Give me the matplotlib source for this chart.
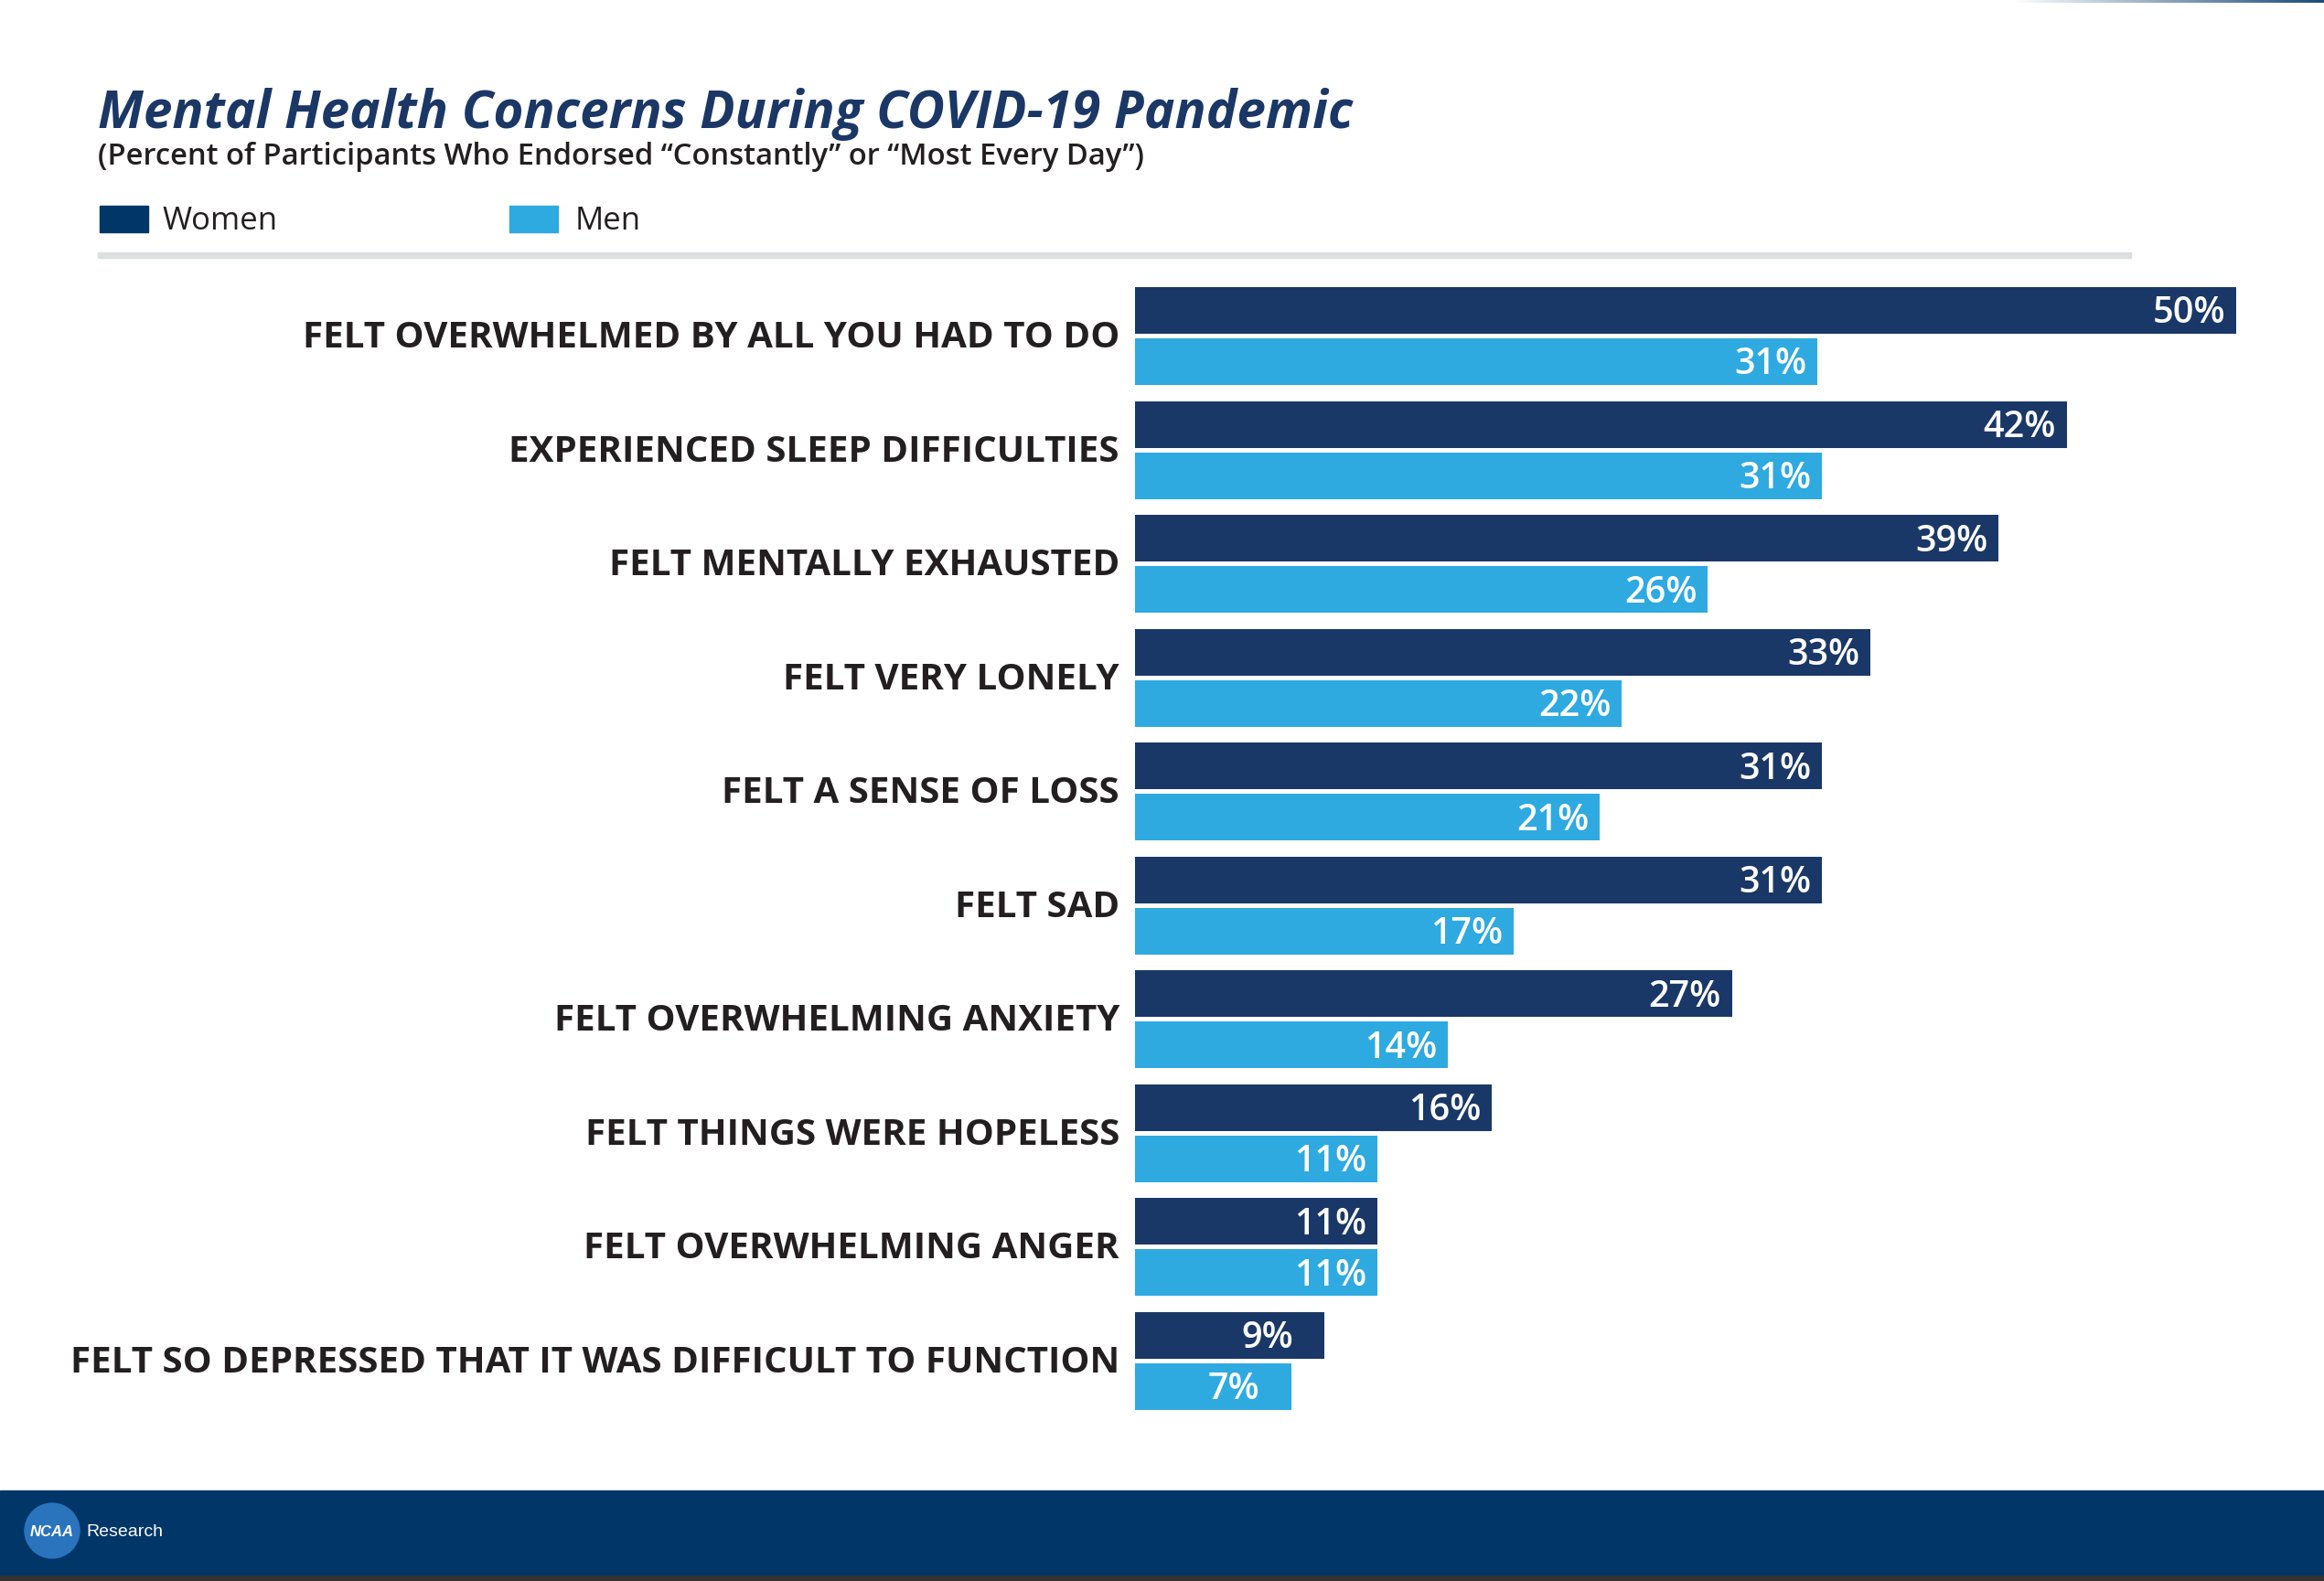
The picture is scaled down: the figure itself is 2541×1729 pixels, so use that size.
import numpy as np
import matplotlib.pyplot as plt
from matplotlib.patches import Rectangle, Ellipse
from matplotlib.colors import LinearSegmentedColormap

W, H = 2541, 1729

categories = [
    "FELT OVERWHELMED BY ALL YOU HAD TO DO",
    "EXPERIENCED SLEEP DIFFICULTIES",
    "FELT MENTALLY EXHAUSTED",
    "FELT VERY LONELY",
    "FELT A SENSE OF LOSS",
    "FELT SAD",
    "FELT OVERWHELMING ANXIETY",
    "FELT THINGS WERE HOPELESS",
    "FELT OVERWHELMING ANGER",
    "FELT SO DEPRESSED THAT IT WAS DIFFICULT TO FUNCTION",
]
women = [50.0, 42.3, 39.2, 33.4, 31.2, 31.2, 27.1, 16.2, 11.0, 8.6]
men = [31.0, 31.2, 26.0, 22.1, 21.1, 17.2, 14.2, 11.0, 11.0, 7.1]
women_labels = ["50%", "42%", "39%", "33%", "31%", "31%", "27%", "16%", "11%", "9%"]
men_labels = ["31%", "31%", "26%", "22%", "21%", "17%", "14%", "11%", "11%", "7%"]

NAVY = '#1a3867'
BLUE = '#2eaae1'
FOOT = '#003668'
TXT = '#231f20'
FONT = ['Open Sans', 'DejaVu Sans']

plt.rcParams['font.family'] = FONT


def fx(px):
    return px / W


def fy(py):
    return 1 - py / H


fig = plt.figure(figsize=(W / 100, H / 100), dpi=100)
fig.patch.set_facecolor('white')

# bars area: x 1241..2445 px = 0..50 %, groups centred every ~124.5 px
pitch = (1488.5 - 367.5) / 9
ax_top = 367.5 - pitch / 2
ax_bot = 1488.5 + pitch / 2
ax = fig.add_axes([fx(1241), fy(ax_bot), fx(2445) - fx(1241), (ax_bot - ax_top) / H])
ax.set_xlim(0, 50)
ax.set_ylim(len(categories) - 0.5, -0.5)
ax.axis('off')

y = np.arange(len(categories))
bh = 51 / pitch
off = 28 / pitch
ax.barh(y - off, women, height=bh, color=NAVY, clip_on=False)
ax.barh(y + off, men, height=bh, color=BLUE, clip_on=False)

px_per_pct = (2445 - 1241) / 50
shift = 91 / px_per_pct
nudge = 4 / pitch  # value labels sit a touch lower
for i in range(len(categories)):
    ax.text(women[i] - shift, y[i] - off + nudge, women_labels[i], color='white',
            fontsize=28.5, fontweight='semibold', ha='left', va='center')
    ax.text(men[i] - shift, y[i] + off + nudge, men_labels[i], color='white',
            fontsize=28.5, fontweight='semibold', ha='left', va='center')
    ax.text(-17 / px_per_pct, y[i] + 2 / pitch, categories[i], color=TXT, fontsize=29,
            fontweight='bold', ha='right', va='center')

# title block
fig.text(fx(107), fy(125), "Mental Health Concerns During COVID-19 Pandemic",
         color='#1b3766', fontsize=40.8, fontweight='bold', fontstyle='italic',
         ha='left', va='center')
fig.text(fx(107), fy(171),
         "(Percent of Participants Who Endorsed \u201cConstantly\u201d or \u201cMost Every Day\u201d)",
         color=TXT, fontsize=23.6, fontweight='semibold', ha='left', va='center')

# legend
fig.add_artist(Rectangle((fx(109), fy(254)), fx(53), 29 / H, color='#003668',
                         transform=fig.transFigure))
fig.text(fx(177), fy(242), "Women", color=TXT, fontsize=25, ha='left', va='center')
fig.add_artist(Rectangle((fx(557), fy(254)), fx(53), 29 / H, color=BLUE,
                         transform=fig.transFigure))
fig.text(fx(629), fy(242), "Men", color=TXT, fontsize=25, ha='left', va='center')

# divider
fig.add_artist(Rectangle((fx(107), fy(282)), fx(2330 - 107), 6 / H, color='#dcdfe0',
                         transform=fig.transFigure))

# footer band
fig.add_artist(Rectangle((0, 0), 1, (H - 1630) / H, color=FOOT,
                         transform=fig.transFigure))
fig.add_artist(Rectangle((0, 0), 1, 6 / H, color='#333333',
                         transform=fig.transFigure))
fig.add_artist(Ellipse((fx(57), fy(1674)), 60 / W, 60 / H, color='#2a74bd',
                       transform=fig.transFigure))
fig.text(fx(57), fy(1675), "NCAA", color='white', fontsize=12, fontweight='bold',
         fontstyle='italic', ha='center', va='center', family=['Liberation Sans'])
fig.text(fx(94), fy(1675), "Research", color='white', fontsize=14,
         ha='left', va='center', family=['Liberation Sans'])

# thin gradient line at top right
gax = fig.add_axes([fx(2200), fy(3), fx(341), 3 / H])
cmap = LinearSegmentedColormap.from_list('g', ['white', '#1a4a7a'])
gax.imshow(np.linspace(0, 1, 256)[None, :], aspect='auto', cmap=cmap)
gax.axis('off')

fig.savefig('out.png', dpi=100)
